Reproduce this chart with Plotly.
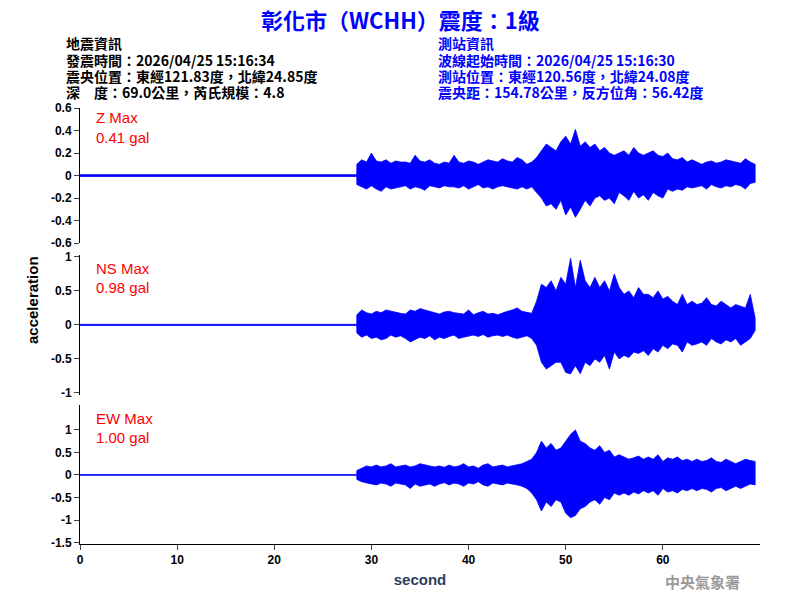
import numpy as np
import plotly.graph_objects as go

t_start, t_step = 28.5, 0.5
z_hi = [.10,.14,.12,.20,.13,.12,.14,.11,.13,.12,
        .12,.11,.18,.13,.12,.14,.11,.10,.12,.11,
        .18,.12,.11,.13,.12,.10,.12,.14,.13,.12,
        .15,.13,.12,.16,.14,.10,.12,.16,.22,.28,
        .25,.22,.30,.35,.28,.41,.26,.30,.25,.28,
        .22,.25,.20,.18,.20,.22,.18,.25,.20,.18,
        .20,.22,.18,.17,.20,.15,.14,.16,.12,.14,
        .12,.10,.12,.13,.11,.12,.14,.13,.12,.11,
        .15,.12,.10]
z_lo = [-.08,-.10,-.12,-.09,-.12,-.14,-.10,-.12,-.11,-.10,
        -.09,-.12,-.10,-.11,-.13,-.09,-.10,-.11,-.09,-.10,
        -.10,-.11,-.09,-.12,-.10,-.08,-.11,-.10,-.12,-.10,
        -.09,-.10,-.11,-.12,-.10,-.12,-.10,-.15,-.20,-.27,
        -.25,-.30,-.22,-.35,-.28,-.37,-.30,-.22,-.27,-.20,
        -.18,-.22,-.20,-.25,-.15,-.18,-.22,-.14,-.20,-.17,
        -.22,-.15,-.18,-.20,-.12,-.14,-.12,-.13,-.10,-.11,
        -.10,-.09,-.12,-.08,-.10,-.11,-.09,-.10,-.08,-.09,
        -.12,-.07,-.06]
ns_hi = [.15,.22,.18,.16,.20,.18,.22,.20,.18,.17,
         .16,.22,.20,.24,.22,.20,.18,.16,.19,.20,
         .18,.17,.16,.22,.15,.18,.20,.16,.17,.15,
         .18,.20,.22,.25,.20,.18,.17,.35,.60,.55,
         .65,.50,.70,.60,.98,.55,.95,.65,.55,.70,
         .55,.65,.50,.75,.55,.45,.50,.40,.55,.45,
         .45,.40,.50,.38,.42,.35,.30,.45,.30,.35,
         .30,.32,.40,.30,.28,.35,.30,.25,.30,.28,
         .25,.45,.10]
ns_lo = [-.12,-.18,-.15,-.20,-.18,-.22,-.20,-.15,-.18,-.16,
         -.20,-.25,-.22,-.18,-.20,-.16,-.22,-.18,-.20,-.17,
         -.15,-.20,-.18,-.16,-.15,-.17,-.14,-.18,-.16,-.15,
         -.17,-.15,-.18,-.20,-.18,-.16,-.20,-.30,-.55,-.65,
         -.60,-.55,-.55,-.70,-.72,-.60,-.72,-.55,-.60,-.50,
         -.55,-.45,-.65,-.40,-.50,-.45,-.48,-.40,-.42,-.38,
         -.45,-.35,-.40,-.30,-.35,-.28,-.30,-.40,-.25,-.30,
         -.28,-.25,-.30,-.20,-.25,-.28,-.22,-.25,-.20,-.30,
         -.25,-.20,-.08]
ew_hi = [.10,.15,.20,.18,.22,.18,.20,.25,.18,.20,
         .22,.18,.20,.25,.22,.20,.18,.20,.17,.22,
         .18,.20,.25,.18,.20,.15,.22,.25,.18,.20,
         .22,.18,.20,.22,.25,.30,.35,.50,.75,.60,
         .70,.55,.60,.75,.90,1.0,.75,.70,.60,.55,
         .65,.50,.55,.40,.45,.40,.35,.38,.42,.35,
         .40,.35,.45,.30,.38,.35,.40,.32,.35,.30,
         .35,.30,.32,.38,.30,.28,.35,.30,.25,.30,
         .35,.32,.30]
ew_lo = [-.10,-.15,-.18,-.20,-.22,-.18,-.20,-.25,-.18,-.20,
         -.22,-.30,-.20,-.25,-.22,-.20,-.25,-.20,-.17,-.22,
         -.18,-.20,-.25,-.18,-.20,-.15,-.22,-.25,-.18,-.20,
         -.22,-.18,-.20,-.22,-.25,-.30,-.40,-.55,-.80,-.60,
         -.70,-.55,-.60,-.85,-.95,-.90,-.75,-.70,-.60,-.55,
         -.65,-.50,-.55,-.40,-.45,-.40,-.45,-.38,-.42,-.35,
         -.40,-.35,-.45,-.30,-.38,-.35,-.40,-.32,-.35,-.30,
         -.35,-.30,-.32,-.38,-.30,-.28,-.35,-.30,-.25,-.30,
         -.25,-.20,-.22]
pre_noise = [0.008, -0.008]
labels = ["Z Max", "NS Max", "EW Max"]
max_vals = ["0.41 gal", "0.98 gal", "1.00 gal"]
x_ticks = [0, 10, 20, 30, 40, 50, 60]
z_ticks = [-0.6, -0.4, -0.2, 0, 0.2, 0.4, 0.6]
ns_ticks = [-1, -0.5, 0, 0.5, 1]
ew_ticks = [-1.5, -1, -0.5, 0, 0.5, 1]

def band(hi, lo):
    ts = [t_start + i * t_step for i in range(len(hi))]
    xs = [0.0, t_start - 0.01] + ts + ts[::-1] + [t_start - 0.01, 0.0]
    ys = [pre_noise[0], pre_noise[0]] + list(hi) + list(lo)[::-1] + [pre_noise[1], pre_noise[1]]
    return xs, ys

fig = go.Figure()
series = [(z_hi, z_lo, "y3"), (ns_hi, ns_lo, "y2"), (ew_hi, ew_lo, "y")]
for hi, lo, ya in series:
    xs, ys = band(hi, lo)
    fig.add_trace(go.Scatter(x=xs, y=ys, mode="lines", yaxis=ya, fill="toself",
                             fillcolor="#0000ff",
                             line=dict(color="#0000ff", width=0.8), hoverinfo="skip"))

def bt(v): return [f"<b>{x:g}</b>" for x in v]
tf = dict(family="Arial", size=12, color="black")
ax = dict(showgrid=False, zeroline=False, showline=True, linecolor="black",
          ticks="outside", ticklen=5, tickfont=tf, automargin=False)
fig.update_layout(
    width=800, height=600, showlegend=False,
    plot_bgcolor="white", paper_bgcolor="white",
    margin=dict(l=72, r=48, t=100, b=64),
    xaxis=dict(ax, range=[0, 70], tickvals=x_ticks, ticktext=bt(x_ticks), anchor="y",
               title=dict(text="<b>second</b>", font=dict(family="Arial", size=15), standoff=8)),
    yaxis=dict(ax, domain=[0, 0.319], range=[-1.533, 1.556], tickvals=ew_ticks, ticktext=bt(ew_ticks)),
    yaxis2=dict(ax, domain=[0.342, 0.663], range=[-1.03, 1.03], anchor="x",
                tickvals=ns_ticks, ticktext=bt(ns_ticks)),
    yaxis3=dict(ax, domain=[0.690, 1], range=[-0.6, 0.6], anchor="x",
                tickvals=z_ticks, ticktext=bt(z_ticks)),
)

cjk = "Noto Sans CJK TC"
left = ["地震資訊", "發震時間：2026/04/25 15:16:34", "震央位置：東經121.83度，北緯24.85度", "深　度：69.0公里，芮氏規模：4.8"]
right = ["測站資訊", "波線起始時間：2026/04/25 15:16:30", "測站位置：東經120.56度，北緯24.08度", "震央距：154.78公里，反方位角：56.42度"]
def px2paper_x(p): return (p - 80) / 680
def px2paper_y(p): return (544 - p) / 436
def note(text, x, y, size, color, family=cjk, xanchor="center", **kw):
    fig.add_annotation(text=text, x=px2paper_x(x), y=px2paper_y(y), xref="paper", yref="paper",
                       xanchor=xanchor, yanchor="middle", showarrow=False,
                       font=dict(family=family, size=size, color=color), **kw)

note("<b>彰化市（WCHH）震度：1級</b>", 400, 19, 22, "#0000ff")
for i, (l, r) in enumerate(zip(left, right)):
    yy = 43 + i * 16.5
    note(f"<b>{l}</b>", 64, yy, 14, "black", xanchor="left")
    note(f"<b>{r}</b>", 436, yy, 14, "#0000ff", xanchor="left")
for i, (lab, mv) in enumerate(zip(labels, max_vals)):
    top = [118, 268, 418][i]
    note(lab, 94, top, 15, "red", family="Arial", xanchor="left")
    note(mv, 94, top + 19, 15, "red", family="Arial", xanchor="left")
note("<b>acceleration</b>", 32, 300, 15, "black", family="Arial", textangle=-90)
note("<b>中央氣象署</b>", 702, 581, 15, "#999999")

fig.write_html("out.html")
